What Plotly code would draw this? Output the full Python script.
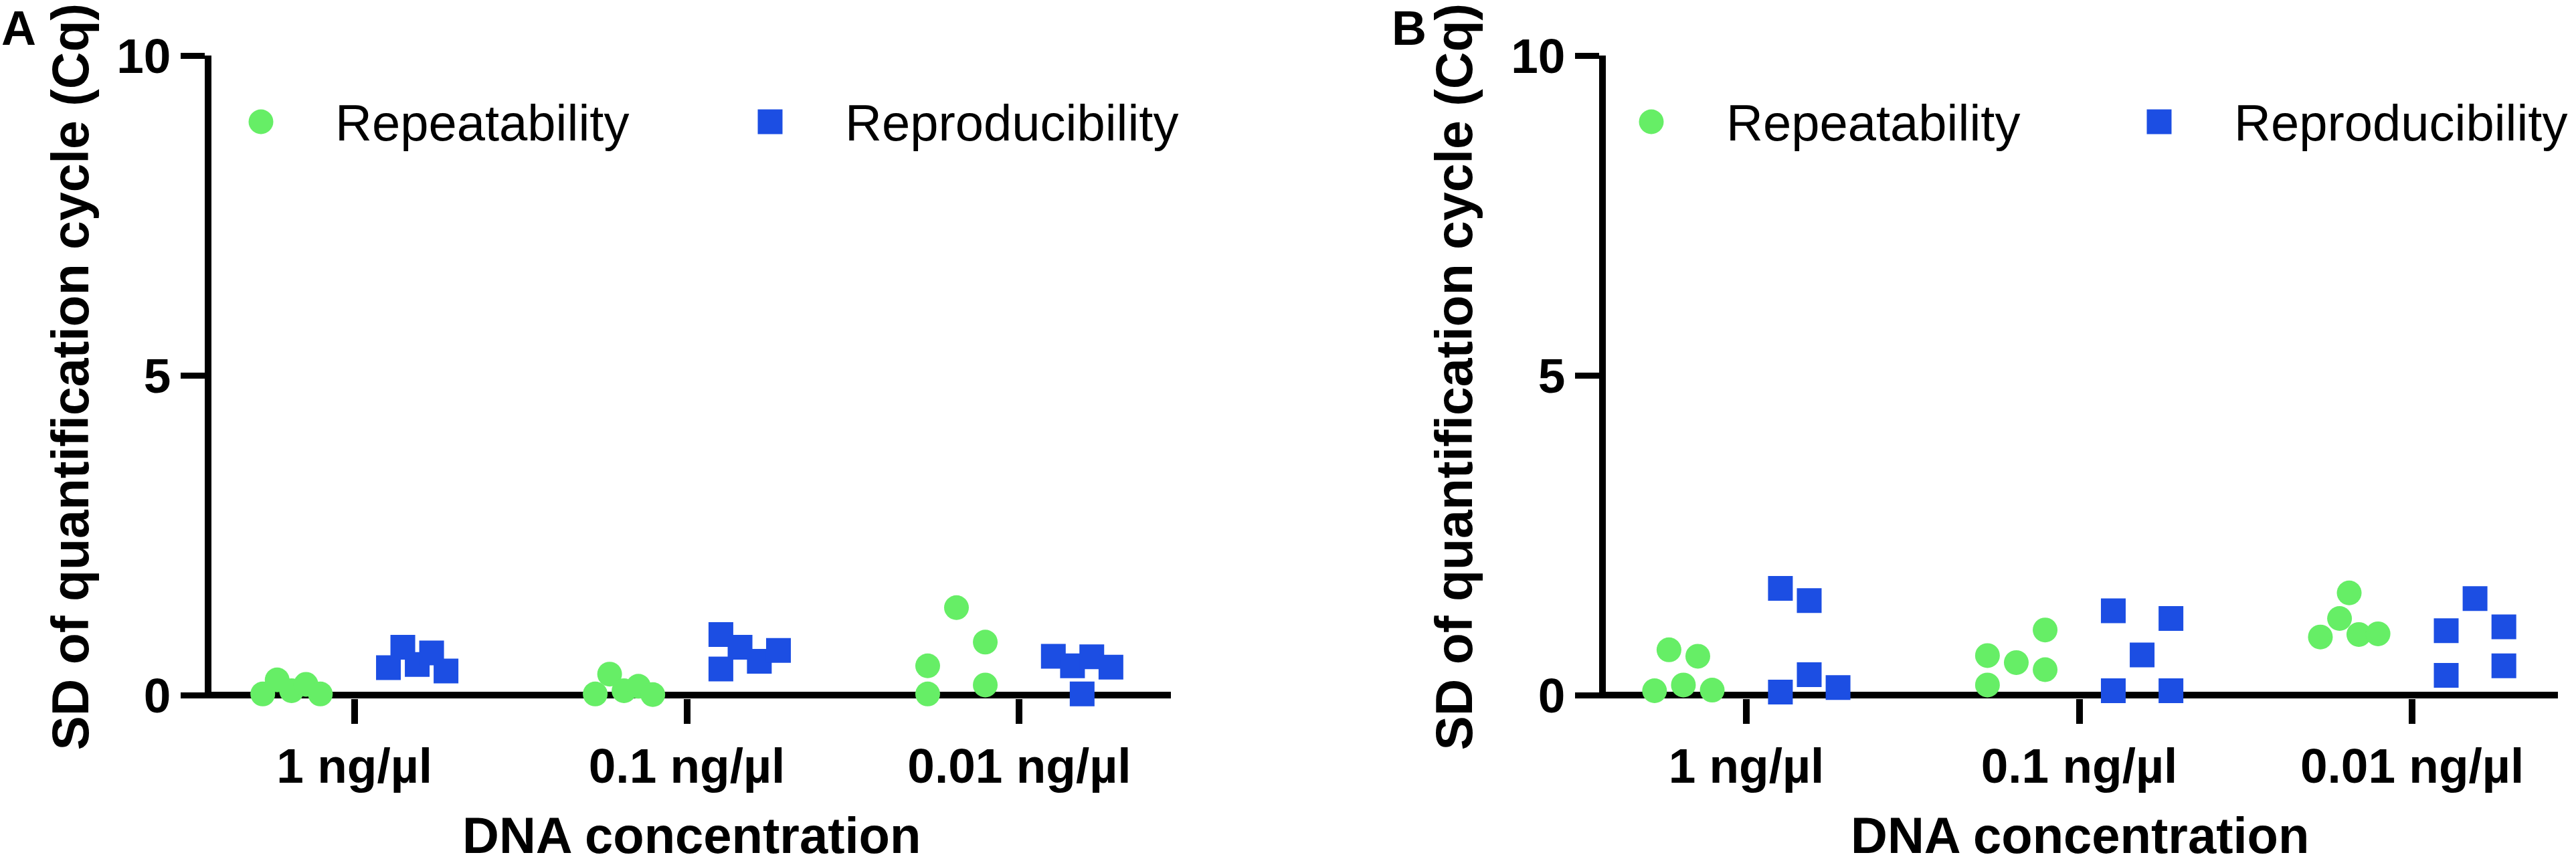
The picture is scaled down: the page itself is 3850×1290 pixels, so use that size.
import plotly.graph_objects as go

## ------ Data
CATEGORIES = ["1 ng/µl", "0.1 ng/µl", "0.01 ng/µl"]
SERIES = ["Repeatability", "Reproducibility"]
Y_TICKS = [0, 5, 10]

# SD of Cq, 5 runs per concentration (rows follow CATEGORIES)
repeat_a = [[0.02, 0.24, 0.07, 0.17, 0.02],
            [0.02, 0.33, 0.07, 0.14, 0.01],
            [0.02, 0.46, 1.37, 0.83, 0.16]]
reprod_a = [[0.43, 0.75, 0.48, 0.66, 0.38],
            [0.41, 0.95, 0.75, 0.53, 0.70],
            [0.61, 0.46, 0.02, 0.60, 0.44]]
repeat_b = [[0.07, 0.71, 0.16, 0.61, 0.08],
            [0.16, 0.62, 0.51, 1.02, 0.40],
            [0.91, 1.20, 1.60, 0.95, 0.96]]
reprod_b = [[0.05, 1.67, 0.32, 1.48, 0.12],
            [0.07, 1.32, 0.63, 0.07, 1.20],
            [0.31, 1.01, 1.51, 1.07, 0.46]]

## ------ Layout constants
W, H = 3850, 1290
GREEN = "#66EE66"
BLUE = "#1C4EE3"
FONT = "Liberation Sans, Arial, sans-serif"
MS = 37            # marker size px
DODGE = 0.189      # group centre offset from the category tick
SLOT = 0.0433      # horizontal step of the scatter-dot arrangement

# point arrangement inside each group (in slots), same order as the data
spread_repeat_a = [[-2, -1, 0, 1, 2], [-2, -1, 0, 1, 2], [-2, -2, 0, 2, 2]]
spread_reprod_a = [[-2, -1, 0, 1, 2], [-2, -2, -0.67, 0.67, 2], [-2, -0.67, 0, 0.67, 2]]
spread_repeat_b = [[-2, -1, 0, 1, 2], [-2, -2, 0, 2, 2], [-2, -0.67, 0, 0.67, 2]]
spread_reprod_b = [[-2, -2, 0, 0, 2], [-2, -2, 0, 2, 2], [-2, -2, 0, 2, 2]]


def px(x):
    return x / W


def py(y):
    return 1 - y / H


def positions(values, spread, side):
    xs, ys = [], []
    for i, (vals, sp) in enumerate(zip(values, spread)):
        for v, s in zip(vals, sp):
            xs.append(i + side * DODGE + s * SLOT)
            ys.append(v)
    return xs, ys


fig = go.Figure()

panels = [
    ("x", "y", repeat_a, reprod_a, spread_repeat_a, spread_reprod_a),
    ("x2", "y2", repeat_b, reprod_b, spread_repeat_b, spread_reprod_b),
]
for xa, ya, rep, rpr, sp_rep, sp_rpr in panels:
    gx, gy = positions(rep, sp_rep, -1)
    bx, by = positions(rpr, sp_rpr, 1)
    fig.add_trace(go.Scatter(x=gx, y=gy, mode="markers", name=SERIES[0], xaxis=xa, yaxis=ya,
                             marker=dict(symbol="circle", size=MS, color=GREEN, line=dict(width=0)),
                             cliponaxis=False, showlegend=False))
    fig.add_trace(go.Scatter(x=bx, y=by, mode="markers", name=SERIES[1], xaxis=xa, yaxis=ya,
                             marker=dict(symbol="square", size=MS, color=BLUE, line=dict(width=0)),
                             cliponaxis=False, showlegend=False))

tickfont = dict(family=FONT, size=73, color="black", weight="bold")
xcommon = dict(tickvals=[0, 1, 2], ticktext=CATEGORIES, showgrid=False, zeroline=False,
               showline=False, ticks="outside", ticklen=37, tickwidth=10, tickcolor="black",
               tickfont=tickfont, fixedrange=True, automargin=False)
ycommon = dict(range=[-0.05, 10], tickvals=Y_TICKS, showgrid=False, zeroline=True,
               zerolinewidth=10, zerolinecolor="black", showline=True, linewidth=10,
               linecolor="black", ticks="outside", ticklen=36, tickwidth=9, tickcolor="black",
               tickfont=tickfont, fixedrange=True, automargin=False)

y_dom = [py(1044), py(83)]
fig.update_layout(
    width=W, height=H, autosize=False,
    margin=dict(l=0, r=0, t=0, b=0, pad=0),
    paper_bgcolor="white", plot_bgcolor="white",
    showlegend=False,
    xaxis=dict(domain=[px(316), px(1750)], range=[-0.43, 2.456], anchor="y", **xcommon),
    yaxis=dict(domain=y_dom, anchor="x", **ycommon),
    xaxis2=dict(domain=[px(2400), px(3823)], range=[-0.422, 2.438], anchor="y2", **xcommon),
    yaxis2=dict(domain=y_dom, anchor="x2", **ycommon),
)

# titles, panel letters, legend
ann = []
shapes = []
for letter, lx, axis_x, ytitle_x, leg in [("A", 0, 1033, 104, (390, 499, 1151, 1261)),
                                          ("B", 2078, 3108, 2172, (2468, 2578, 3227, 3337))]:
    ann.append(dict(text=letter, x=px(lx), y=1, xref="paper", yref="paper",
                    xanchor="left", yanchor="top", showarrow=False,
                    font=dict(family=FONT, size=72, color="black", weight="bold")))
    ann.append(dict(text="DNA concentration", x=px(axis_x), y=py(1248), xref="paper", yref="paper",
                    xanchor="center", yanchor="middle", showarrow=False,
                    font=dict(family=FONT, size=76, color="black", weight="bold")))
    # rotated title, anchored at its start ("SD") near the bottom of the axis
    ann.append(dict(text="SD of quantification cycle (Cq)", x=px(ytitle_x), y=py(1124),
                    xref="paper", yref="paper", xanchor="center", yanchor="bottom",
                    textangle=-90, showarrow=False,
                    font=dict(family=FONT, size=77, color="black", weight="bold")))
    cx, tx1, sx, tx2 = leg
    shapes.append(dict(type="circle", xref="paper", yref="paper", xsizemode="pixel", ysizemode="pixel",
                       xanchor=px(cx), yanchor=py(182), x0=-18.5, x1=18.5, y0=-18.5, y1=18.5,
                       fillcolor=GREEN, line=dict(width=0)))
    shapes.append(dict(type="rect", xref="paper", yref="paper", xsizemode="pixel", ysizemode="pixel",
                       xanchor=px(sx), yanchor=py(182), x0=-18.5, x1=18.5, y0=-18.5, y1=18.5,
                       fillcolor=BLUE, line=dict(width=0)))
    for t, tx in [(SERIES[0], tx1), (SERIES[1], tx2)]:
        ann.append(dict(text=t, x=px(tx), y=py(184), xref="paper", yref="paper",
                        xanchor="left", yanchor="middle", showarrow=False,
                        font=dict(family=FONT, size=76, color="black")))

fig.update_layout(annotations=ann, shapes=shapes)

# page body has a default 8px margin; drop it so the figure fills the window
fig.write_html("out.html", config={"displayModeBar": False},
               post_script="document.body.style.margin='0px';")
